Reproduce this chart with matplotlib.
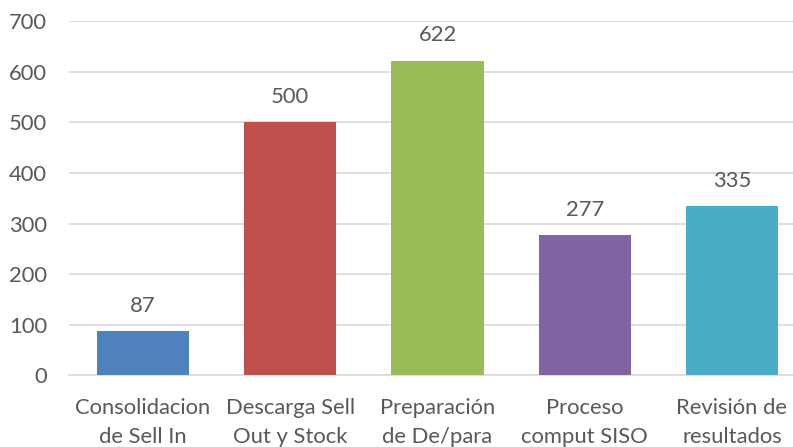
import matplotlib.pyplot as plt

# tiempos por etapa del proceso
etapas = ["Consolidacion\nde Sell In", "Descarga Sell\nOut y Stock",
          "Preparación\nde De/para", "Proceso\ncomput SISO",
          "Revisión de\nresultados"]
valores = [87, 500, 622, 277, 335]
colores = ["#4F81BD", "#C0504D", "#9BBB59", "#8064A2", "#4BACC6"]
marcas_y = [0, 100, 200, 300, 400, 500, 600, 700]

plt.rcParams['font.family'] = ['Lato', 'DejaVu Sans']
gris = "#595959"
tam = 15.8

W, H = 793, 447
fig = plt.figure(figsize=(W / 100, H / 100), dpi=100)
# el area de dibujo se sale un poco por la derecha
ax = fig.add_axes([69.4 / W, (H - 375.3) / H, 736.2 / W, 354 / H])

x = range(len(valores))
bars = ax.bar(x, valores, width=0.625, color=colores, zorder=3)

for xi, v in zip(x, valores):
    ax.annotate(str(v), (xi, v), xytext=(0, 11), textcoords="offset points",
                ha="center", va="bottom", fontsize=tam, color=gris)

ax.set_xlim(-0.5, len(valores) - 0.5)
ax.set_ylim(0, 700)
ax.set_yticks(marcas_y)
ax.set_xticks(list(x))
ax.set_xticklabels(etapas, fontsize=tam, color=gris, linespacing=1.6)
ax.tick_params(axis='y', length=0, pad=16, labelsize=tam, labelcolor=gris)
ax.tick_params(axis='x', length=0, pad=16)

ax.yaxis.grid(True, color="#D9D9D9", linewidth=1.2, zorder=0)
for s in ["top", "right", "left"]:
    ax.spines[s].set_visible(False)
ax.spines["bottom"].set_color("#D9D9D9")
ax.spines["bottom"].set_linewidth(1.2)

fig.savefig("out.png", dpi=100)
